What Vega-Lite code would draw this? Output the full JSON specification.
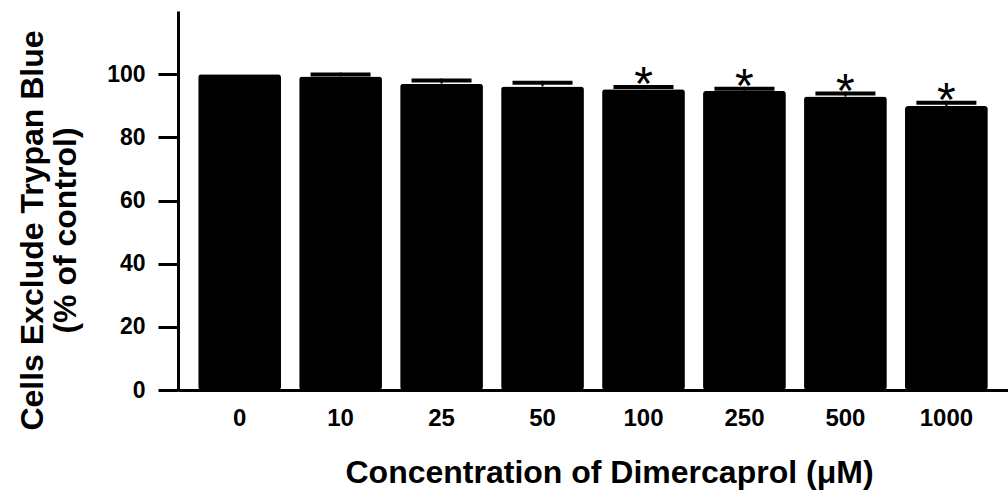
{
  "$schema": "https://vega.github.io/schema/vega-lite/v6.json",
  "autosize": {"type": "none"},
  "width": 830,
  "height": 379,
  "padding": {"left": 178, "top": 11, "right": 0, "bottom": 102},
  "background": "white",
  "config": {
    "view": {"stroke": null},
    "font": "Liberation Sans"
  },
  "data": {
    "values": [
      {"conc": "0", "value": 100.0, "upper": null, "sig": ""},
      {"conc": "10", "value": 99.3, "upper": 100.5, "sig": ""},
      {"conc": "25", "value": 97.0, "upper": 98.6, "sig": ""},
      {"conc": "50", "value": 96.1, "upper": 97.9, "sig": ""},
      {"conc": "100", "value": 95.2, "upper": 96.6, "sig": "*"},
      {"conc": "250", "value": 94.7, "upper": 96.0, "sig": "*"},
      {"conc": "500", "value": 92.9, "upper": 94.5, "sig": "*"},
      {"conc": "1000", "value": 89.9, "upper": 91.6, "sig": "*"}
    ]
  },
  "encoding": {
    "x": {
      "field": "conc",
      "type": "ordinal",
      "sort": null,
      "scale": {"paddingInner": 0.18, "paddingOuter": 0.2},
      "axis": {
        "title": "Concentration of Dimercaprol (μM)",
        "labelAngle": 0,
        "labelFont": "Liberation Sans",
        "labelFontWeight": "bold",
        "labelFontSize": 24,
        "labelColor": "black",
        "labelPadding": 16,
        "ticks": false,
        "tickSize": 0,
        "domainColor": "black",
        "domainWidth": 3,
        "titleFont": "Liberation Sans",
        "titleFontWeight": "bold",
        "titleFontSize": 32,
        "titleColor": "black",
        "titleBaseline": "alphabetic",
        "titleAlign": "center",
        "titleX": 431,
        "titleY": 92
      }
    }
  },
  "layer": [
    {
      "mark": {"type": "bar", "color": "black", "cornerRadius": 3},
      "encoding": {
        "y": {
          "field": "value",
          "type": "quantitative",
          "scale": {"domain": [0, 120], "nice": false},
          "axis": {
            "values": [0, 20, 40, 60, 80, 100],
            "grid": false,
            "title": ["Cells Exclude Trypan Blue", "(% of control)"],
            "titleFont": "Liberation Sans",
            "titleFontWeight": "bold",
            "titleFontSize": 32,
            "titleLineHeight": 33,
            "titleColor": "black",
            "titleAngle": -90,
            "titleAlign": "center",
            "titleBaseline": "alphabetic",
            "titleX": -136,
            "titleY": 219,
            "labelFont": "Liberation Sans",
            "labelFontWeight": "bold",
            "labelFontSize": 23,
            "labelColor": "black",
            "labelPadding": 13,
            "tickSize": 20,
            "tickWidth": 3,
            "tickColor": "black",
            "domainColor": "black",
            "domainWidth": 3
          }
        }
      }
    },
    {
      "transform": [{"filter": "datum.upper != null"}],
      "mark": {"type": "rule", "color": "black", "strokeWidth": 2},
      "encoding": {
        "y": {"field": "value", "type": "quantitative"},
        "y2": {"field": "upper"}
      }
    },
    {
      "transform": [{"filter": "datum.upper != null"}],
      "mark": {"type": "tick", "color": "black", "orient": "horizontal", "size": 60, "thickness": 4, "yOffset": 2, "opacity": 1},
      "encoding": {
        "y": {"field": "upper", "type": "quantitative"}
      }
    },
    {
      "transform": [{"filter": "datum.sig != ''"}],
      "mark": {"type": "text", "color": "black", "font": "Liberation Sans", "fontSize": 48, "baseline": "alphabetic", "align": "center", "dy": 15},
      "encoding": {
        "y": {"field": "upper", "type": "quantitative"},
        "text": {"field": "sig"}
      }
    }
  ]
}
